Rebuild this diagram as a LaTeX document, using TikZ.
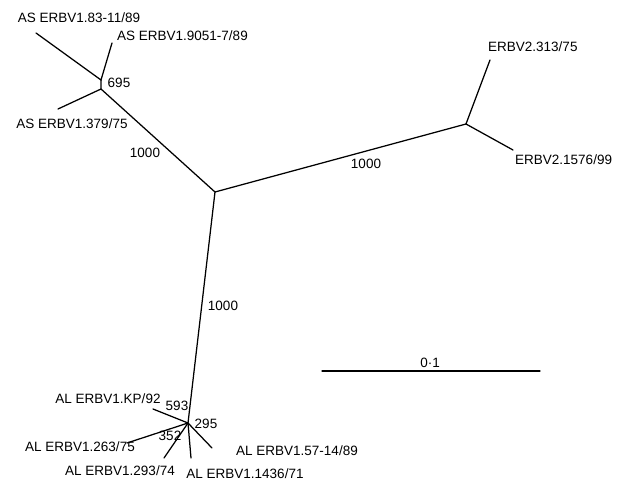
\documentclass[tikz,border=0pt]{standalone}
\usepackage{fontspec}
\setmainfont{Liberation Sans}
\begin{document}
\begin{tikzpicture}[x=1pt,y=-1pt,
  br/.style={line width=1.25pt,line cap=round},
  lab/.style={inner sep=0pt,font=\fontsize{13.5}{15}\selectfont,text height=9.6pt,text depth=0pt}]
\useasboundingbox (0,0) rectangle (629,481);
% internal nodes
\coordinate (C) at (215,192);
\coordinate (A1) at (101,80);
\coordinate (A2) at (101,89);
\coordinate (B) at (466,124);
\coordinate (D) at (188,423);
% tips
\coordinate (a1) at (36,33);
\coordinate (a2) at (112,43);
\coordinate (a3) at (58,109);
\coordinate (b1) at (490,60);
\coordinate (b2) at (513,150);
\coordinate (d1) at (153,409);
\coordinate (d2) at (127,443);
\coordinate (d3) at (164,458);
\coordinate (d4) at (191,458);
\coordinate (d5) at (212,448);
\coordinate (s1) at (322,371);
\coordinate (s2) at (540,371);
% branches
\draw[br] (C) -- (A2) -- (A1);
\draw[br] (a1) -- (A1) -- (a2);
\draw[br] (A2) -- (a3);
\draw[br] (C) -- (B);
\draw[br] (B) -- (b1);
\draw[br] (B) -- (b2);
\draw[br] (C) -- (D);
\draw[br] (D) -- (d1);
\draw[br] (D) -- (d2);
\draw[br] (D) -- (d3);
\draw[br] (D) -- (d4);
\draw[br] (D) -- (d5);
\draw[br] (s1) -- (s2);
% labels
\node[lab] (t1) at (79,18) {AS ERBV1.83-11/89};
\node[lab,anchor=west] (t2) at (117,36) {AS ERBV1.9051-7/89};
\node[lab] (t3) at (72,124) {AS ERBV1.379/75};
\node[lab] (n695) at (119,83) {695};
\node[lab] (n1000a) at (145,153) {1000};
\node[lab] (n1000b) at (366,164) {1000};
\node[lab] (n1000c) at (223,306) {1000};
\node[lab,anchor=west] (t4) at (488,47) {ERBV2.313/75};
\node[lab,anchor=west] (t5) at (515,160) {ERBV2.1576/99};
\node[lab] (t6) at (108,399) {AL ERBV1.KP/92};
\node[lab] (n593) at (177,406) {593};
\node[lab] (n295) at (206,424) {295};
\node[lab] (n352) at (170,436) {352};
\node[lab] (t7) at (80,447) {AL ERBV1.263/75};
\node[lab] (t8) at (120,471) {AL ERBV1.293/74};
\node[lab] (t9) at (245,473.5) {AL ERBV1.1436/71};
\node[lab] (t10) at (297,451) {AL ERBV1.57-14/89};
\node[lab] (sc) at (430,363) {0·1};
\end{tikzpicture}
\end{document}
